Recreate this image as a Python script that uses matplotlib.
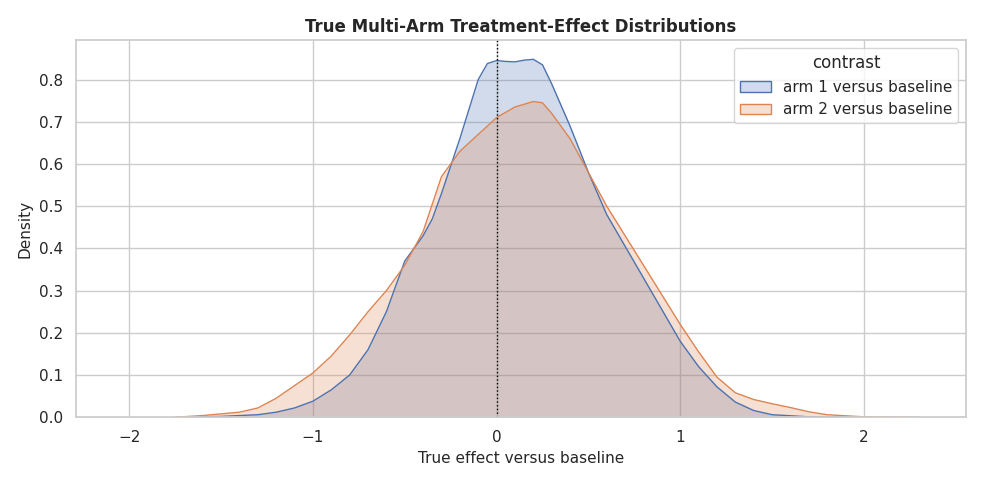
import numpy as np
import matplotlib
matplotlib.use("Agg")
import matplotlib.pyplot as plt
import seaborn as sns

sns.set_theme(style="whitegrid")

arm1_x = [-1.75,-1.5,-1.3,-1.2,-1.1,-1.0,-0.9,-0.8,-0.7,-0.6,-0.5,-0.4,-0.35,-0.3,-0.2,-0.1,-0.05,0.0,0.05,0.1,0.15,0.2,0.25,0.3,0.4,0.5,0.6,0.7,0.8,0.9,1.0,1.1,1.2,1.3,1.4,1.5,1.7,2.0]
arm1_y = [0.0,0.002,0.006,0.012,0.022,0.038,0.065,0.1,0.16,0.25,0.37,0.43,0.47,0.53,0.66,0.8,0.838,0.845,0.843,0.842,0.846,0.848,0.835,0.79,0.69,0.58,0.48,0.405,0.33,0.255,0.18,0.12,0.072,0.036,0.016,0.006,0.001,0.0]
arm2_x = [-1.75,-1.6,-1.5,-1.4,-1.3,-1.2,-1.1,-1.0,-0.9,-0.8,-0.7,-0.6,-0.5,-0.4,-0.3,-0.2,-0.1,0.0,0.1,0.2,0.25,0.3,0.4,0.5,0.6,0.7,0.8,0.9,1.0,1.1,1.2,1.3,1.4,1.5,1.6,1.7,1.8,2.0,2.3]
arm2_y = [0.0,0.004,0.008,0.012,0.022,0.045,0.075,0.105,0.145,0.195,0.25,0.3,0.36,0.44,0.57,0.63,0.67,0.71,0.735,0.748,0.745,0.72,0.66,0.58,0.5,0.43,0.36,0.29,0.22,0.155,0.095,0.058,0.042,0.032,0.023,0.013,0.006,0.001,0.0]
labels = ["arm 1 versus baseline", "arm 2 versus baseline"]
colors = ["#4c72b0", "#dd8452"]

fig, ax = plt.subplots(figsize=(9.84, 4.84), dpi=100)
for xs, ys, lab, c in [(arm1_x, arm1_y, labels[0], colors[0]), (arm2_x, arm2_y, labels[1], colors[1])]:
    ax.fill_between(xs, ys, color=c, alpha=0.25, linewidth=0)
    ax.plot(xs, ys, color=c, linewidth=1)
from matplotlib.patches import Patch
handles = [Patch(facecolor=matplotlib.colors.to_rgba(c, 0.25), edgecolor=c, label=l) for c, l in zip(colors, labels)]
ax.legend(handles=handles, title="contrast", loc="upper right", fontsize=11, title_fontsize=12)
ax.axvline(0, color="black", linestyle=":", linewidth=1)
ax.set_xlim(-2.29, 2.556)
ax.set_ylim(0, 0.893)
ax.tick_params(labelsize=11)
ax.set_xlabel("True effect versus baseline", fontsize=11)
ax.set_ylabel("Density", fontsize=11)
ax.set_title("True Multi-Arm Treatment-Effect Distributions", fontweight="bold", fontsize=12)
fig.tight_layout()
fig.savefig("out.png")
